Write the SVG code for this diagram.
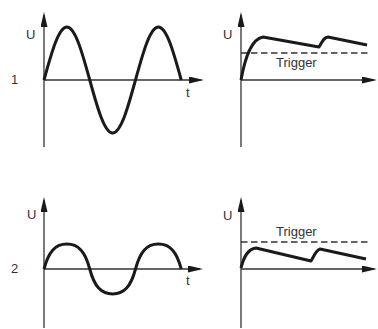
<svg xmlns="http://www.w3.org/2000/svg" width="378" height="329" viewBox="0 0 378 329">
<style>
.ax{stroke:#333;stroke-width:1.3;fill:none;marker-end:url(#arr)}
.cv{stroke:#1a1a1a;stroke-width:3;fill:none;stroke-linejoin:round;stroke-linecap:butt}
.tr{stroke:#333;stroke-width:1.3;stroke-dasharray:6.5 3.5;fill:none}
.lb{font-family:"Liberation Sans",Arial,sans-serif;font-size:13px;fill:#333}
</style>
<defs>
<marker id="arr" markerUnits="userSpaceOnUse" markerWidth="15" markerHeight="7" viewBox="0 0 15 7" refX="12" refY="3.5" orient="auto">
<path d="M0,0 L15,3.5 L0,7 Z" fill="#1a1a1a"/>
</marker>
</defs>
<rect width="378" height="329" fill="#fff"/>
<g id="panel1">
<path class="ax" d="M44,147 V15"/>
<path class="ax" d="M44,80 H201"/>
<path class="cv" d="M44,80 C52.04,50.73 58.84,27 66.875,27 C74.92,27 81.71,50.73 89.75,80 C97.79,109.27 104.59,133 112.625,133 C120.67,133 127.46,109.27 135.5,80 C143.54,50.73 150.34,27 158.375,27 C166.42,27 173.21,50.73 181.25,80"/>
<text class="lb" x="26" y="39">U</text>
<text class="lb" x="11" y="84">1</text>
<text class="lb" x="186" y="97">t</text>
</g>
<g id="panel2">
<path class="ax" d="M241,147 V15"/>
<path class="ax" d="M241,80 H374"/>
<path class="tr" d="M241,53 H370"/>
<path class="cv" d="M241,80 C245,58 251,39 263,37 L319,47 C322,42 324,37 328,37 L367,45"/>
<text class="lb" x="223" y="39">U</text>
<text class="lb" x="276" y="67">Trigger</text>
</g>
<g id="panel3">
<path class="ax" d="M44,328 V200"/>
<path class="ax" d="M44,269 H200"/>
<path class="cv" d="M44,269 C48.58,251.5 55.44,244 66.875,244 C78.31,244 85.18,251.5 89.75,269 C94.33,286.5 101.19,294 112.625,294 C124.06,294 130.93,286.5 135.5,269 C140.08,251.5 146.94,244 158.375,244 C169.81,244 176.68,251.5 181.25,269"/>
<text class="lb" x="27" y="219">U</text>
<text class="lb" x="11" y="273">2</text>
<text class="lb" x="186" y="285">t</text>
</g>
<g id="panel4">
<path class="ax" d="M241,328 V200"/>
<path class="ax" d="M241,269 H374"/>
<path class="tr" d="M241,242 H370"/>
<path class="cv" d="M241,268 C244,256 248,249 256,248 L311,261 C314,256 316,250 320,249 L366,259"/>
<text class="lb" x="223" y="220">U</text>
<text class="lb" x="276" y="236">Trigger</text>
</g>
<g id="connectors"></g>
</svg>
